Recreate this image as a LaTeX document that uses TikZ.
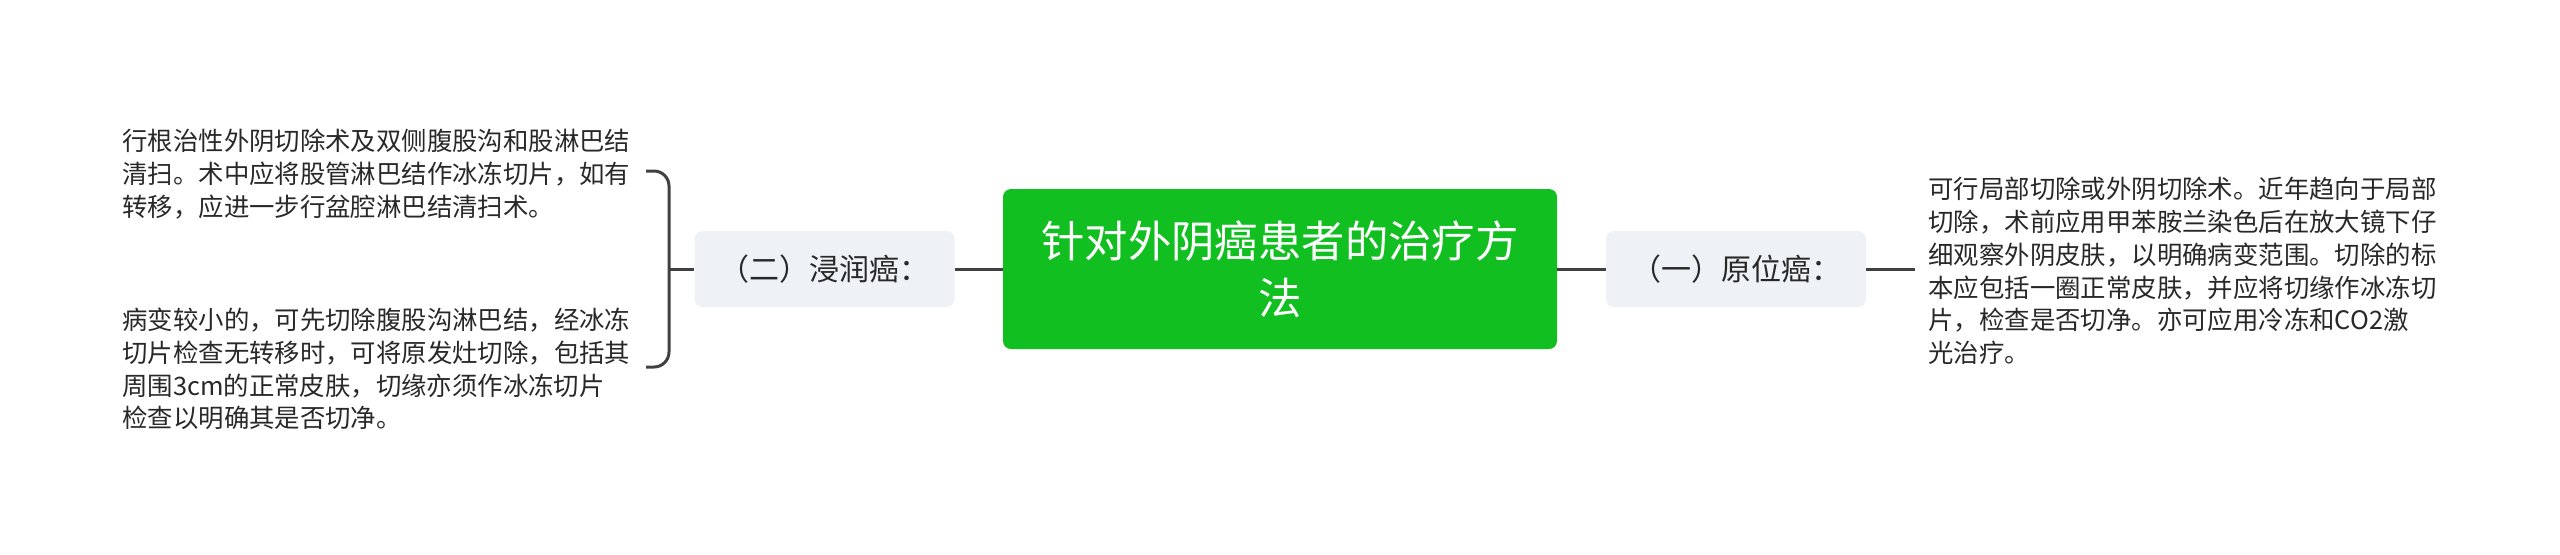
\documentclass[tikz,border=0pt]{standalone}
\usepackage{fontspec}
\setmainfont{Noto Sans CJK SC}
\usepackage{xcolor}
\usepackage{tikz}
\definecolor{rootgreen}{RGB}{17,192,32}
\definecolor{subfill}{RGB}{238,241,245}
\definecolor{linegray}{RGB}{64,64,64}
\definecolor{textgray}{RGB}{40,40,40}

\begin{document}
\begin{tikzpicture}[x=0.5pt, y=-0.5pt,
    root/.style={rectangle, rounded corners=4pt, fill=rootgreen, text=white, align=center,
        minimum width=277pt, minimum height=80pt, inner sep=0pt, font=\fontsize{21.7}{28.5}\selectfont},
    sub/.style={rectangle, rounded corners=4pt, fill=subfill, text=textgray,
        minimum width=130pt, minimum height=38pt, inner sep=0pt, font=\fontsize{15}{18}\selectfont},
    leaf/.style={anchor=west, align=left, inner sep=0pt, text=textgray, font=\fontsize{12.7}{16.4}\selectfont},
    conn/.style={draw=linegray, line width=1.5pt}
]
\useasboundingbox (0,0) rectangle (2560,554);

\node[root] (R) at (1280,269) {针对外阴癌患者的治疗方\\法};
\node[sub] (S1) at (1736,269) {（一）原位癌：};
\node[sub] (S2) at (824.5,269) {（二）浸润癌：};

\node[leaf] (T1) at (1928,271) {可行局部切除或外阴切除术。近年趋向于局部\\切除，术前应用甲苯胺兰染色后在放大镜下仔\\细观察外阴皮肤，以明确病变范围。切除的标\\本应包括一圈正常皮肤，并应将切缘作冰冻切\\片，检查是否切净。亦可应用冷冻和CO2激\\光治疗。};
\node[leaf] (T2) at (122,174) {行根治性外阴切除术及双侧腹股沟和股淋巴结\\清扫。术中应将股管淋巴结作冰冻切片，如有\\转移，应进一步行盆腔淋巴结清扫术。};
\node[leaf] (T3) at (122,369) {病变较小的，可先切除腹股沟淋巴结，经冰冻\\切片检查无转移时，可将原发灶切除，包括其\\周围3cm的正常皮肤，切缘亦须作冰冻切片\\检查以明确其是否切净。};

\coordinate (J1) at (1915,269);
\coordinate (B) at (669,269);
\coordinate (E2) at (646,171);
\coordinate (E3) at (646,367);

\draw[conn] (R) -- (S1);
\draw[conn] (R) -- (S2);
\draw[conn] (S1) -- (J1);
\draw[conn] (S2) -- (B);
\draw[conn, rounded corners=7.5pt] (E2) -| (B) |- (E3);
\end{tikzpicture}
\end{document}
